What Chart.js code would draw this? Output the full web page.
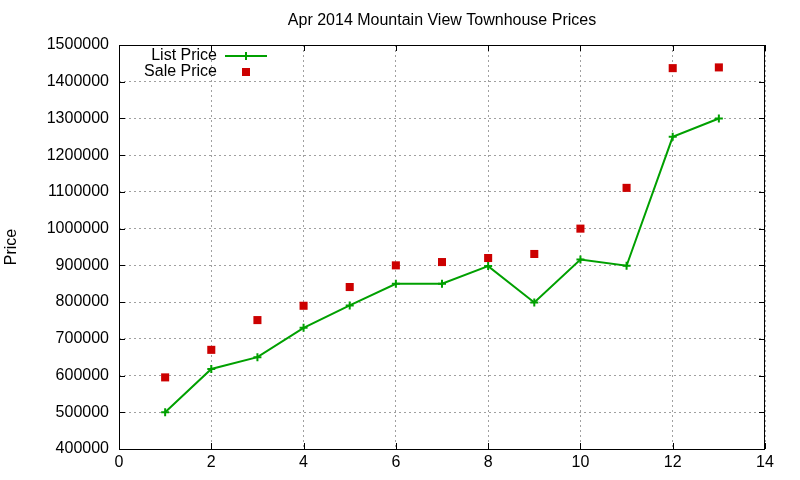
<!DOCTYPE html>
<html>
<head>
<meta charset="utf-8">
<script src="https://cdn.jsdelivr.net/npm/chart.js@4/dist/chart.umd.min.js"></script>
<style>
  html, body { margin: 0; padding: 0; background: #fff; }
  #wrap { width: 800px; height: 480px; }
</style>
</head>
<body>
<div id="wrap"><canvas id="chart" width="800" height="480"></canvas></div>
<script>
const chartTitle = "Apr 2014 Mountain View Townhouse Prices";
const yTitle = "Price";
const months = [1, 2, 3, 4, 5, 6, 7, 8, 9, 10, 11, 12, 13];
const listPrice = [500000, 618000, 650000, 730000, 791000, 850000, 850000, 898000, 799000, 916000, 899000, 1250000, 1300000];
const salePrice = [595000, 670000, 751000, 790000, 841000, 900000, 909000, 920000, 931000, 1000000, 1111000, 1437000, 1439000];

const GREEN = "#00a000";
const RED = "#cc0000";
const FONT = "Liberation Sans, Arial, sans-serif";

// gnuplot-ish frame: box, inward ticks on all sides, centred title, legend
const framePlugin = {
  id: "frame",
  afterDraw(chart) {
    const ctx = chart.ctx;
    const a = chart.chartArea;
    const xs = chart.scales.x, ys = chart.scales.y;
    ctx.save();
    ctx.strokeStyle = "#000";
    ctx.lineWidth = 1;
    ctx.strokeRect(a.left + 0.5, a.top + 0.5, a.right - a.left - 1, a.bottom - a.top);
    const t = 6;
    ctx.beginPath();
    xs.ticks.forEach(tk => {
      const px = Math.round(xs.getPixelForValue(tk.value)) + 0.5;
      ctx.moveTo(px, a.bottom); ctx.lineTo(px, a.bottom - t);
      ctx.moveTo(px, a.top); ctx.lineTo(px, a.top + t);
    });
    ys.ticks.forEach(tk => {
      const py = Math.round(ys.getPixelForValue(tk.value)) + 0.5;
      ctx.moveTo(a.left, py); ctx.lineTo(a.left + t, py);
      ctx.moveTo(a.right, py); ctx.lineTo(a.right - t, py);
    });
    ctx.stroke();

    // title
    ctx.fillStyle = "#000";
    ctx.font = "16px " + FONT;
    ctx.textAlign = "center";
    ctx.textBaseline = "middle";
    ctx.fillText(chartTitle, (a.left + a.right) / 2, 21);

    // legend
    ctx.textAlign = "right";
    const rows = [56, 72];
    chart.data.datasets.forEach((ds, i) => {
      const y = rows[i];
      ctx.fillStyle = "#000";
      ctx.fillText(ds.label, 217, y);
      if (ds.showLine) {
        ctx.strokeStyle = ds.borderColor;
        ctx.lineWidth = 2;
        ctx.beginPath();
        ctx.moveTo(225, y); ctx.lineTo(267, y);
        ctx.moveTo(246, y - 4); ctx.lineTo(246, y + 4);
        ctx.stroke();
      } else {
        ctx.fillStyle = ds.backgroundColor;
        ctx.fillRect(242, y - 4, 8, 8);
      }
    });
    ctx.restore();
  }
};

new Chart(document.getElementById("chart"), {
  type: "scatter",
  data: {
    datasets: [
      {
        label: "List Price",
        data: months.map((m, i) => ({ x: m, y: listPrice[i] })),
        showLine: true,
        borderColor: GREEN,
        backgroundColor: GREEN,
        borderWidth: 2,
        pointStyle: "cross",
        pointRadius: 4,
        pointBorderWidth: 2,
        tension: 0
      },
      {
        label: "Sale Price",
        data: months.map((m, i) => ({ x: m, y: salePrice[i] })),
        showLine: false,
        borderColor: RED,
        backgroundColor: RED,
        pointStyle: "rect",
        pointRadius: 5.7,
        pointBorderWidth: 0
      }
    ]
  },
  options: {
    responsive: false,
    animation: false,
    layout: { padding: { top: 45, right: 35, left: 0, bottom: 0 } },
    plugins: {
      legend: { display: false },
      title: { display: false },
      tooltip: { enabled: false }
    },
    scales: {
      x: {
        type: "linear",
        min: 0,
        max: 14,
        ticks: { stepSize: 2, color: "#000", padding: 4, font: { family: FONT, size: 16 } },
        grid: { color: "#a0a0a0", lineWidth: 1, drawTicks: false },
        border: { display: false, dash: [2, 3] },
        afterFit(scale) { scale.height = 31; }
      },
      y: {
        min: 400000,
        max: 1500000,
        ticks: {
          stepSize: 100000, color: "#000", padding: 10, font: { family: FONT, size: 16 },
          callback: v => String(v)
        },
        grid: { color: "#a0a0a0", lineWidth: 1, drawTicks: false },
        border: { display: false, dash: [2, 3] },
        title: { display: true, text: yTitle, color: "#000", font: { family: FONT, size: 16 }, padding: { top: 2, bottom: 0 } },
        afterFit(scale) { scale.width = 119; }
      }
    }
  },
  plugins: [framePlugin]
});
</script>
</body>
</html>
